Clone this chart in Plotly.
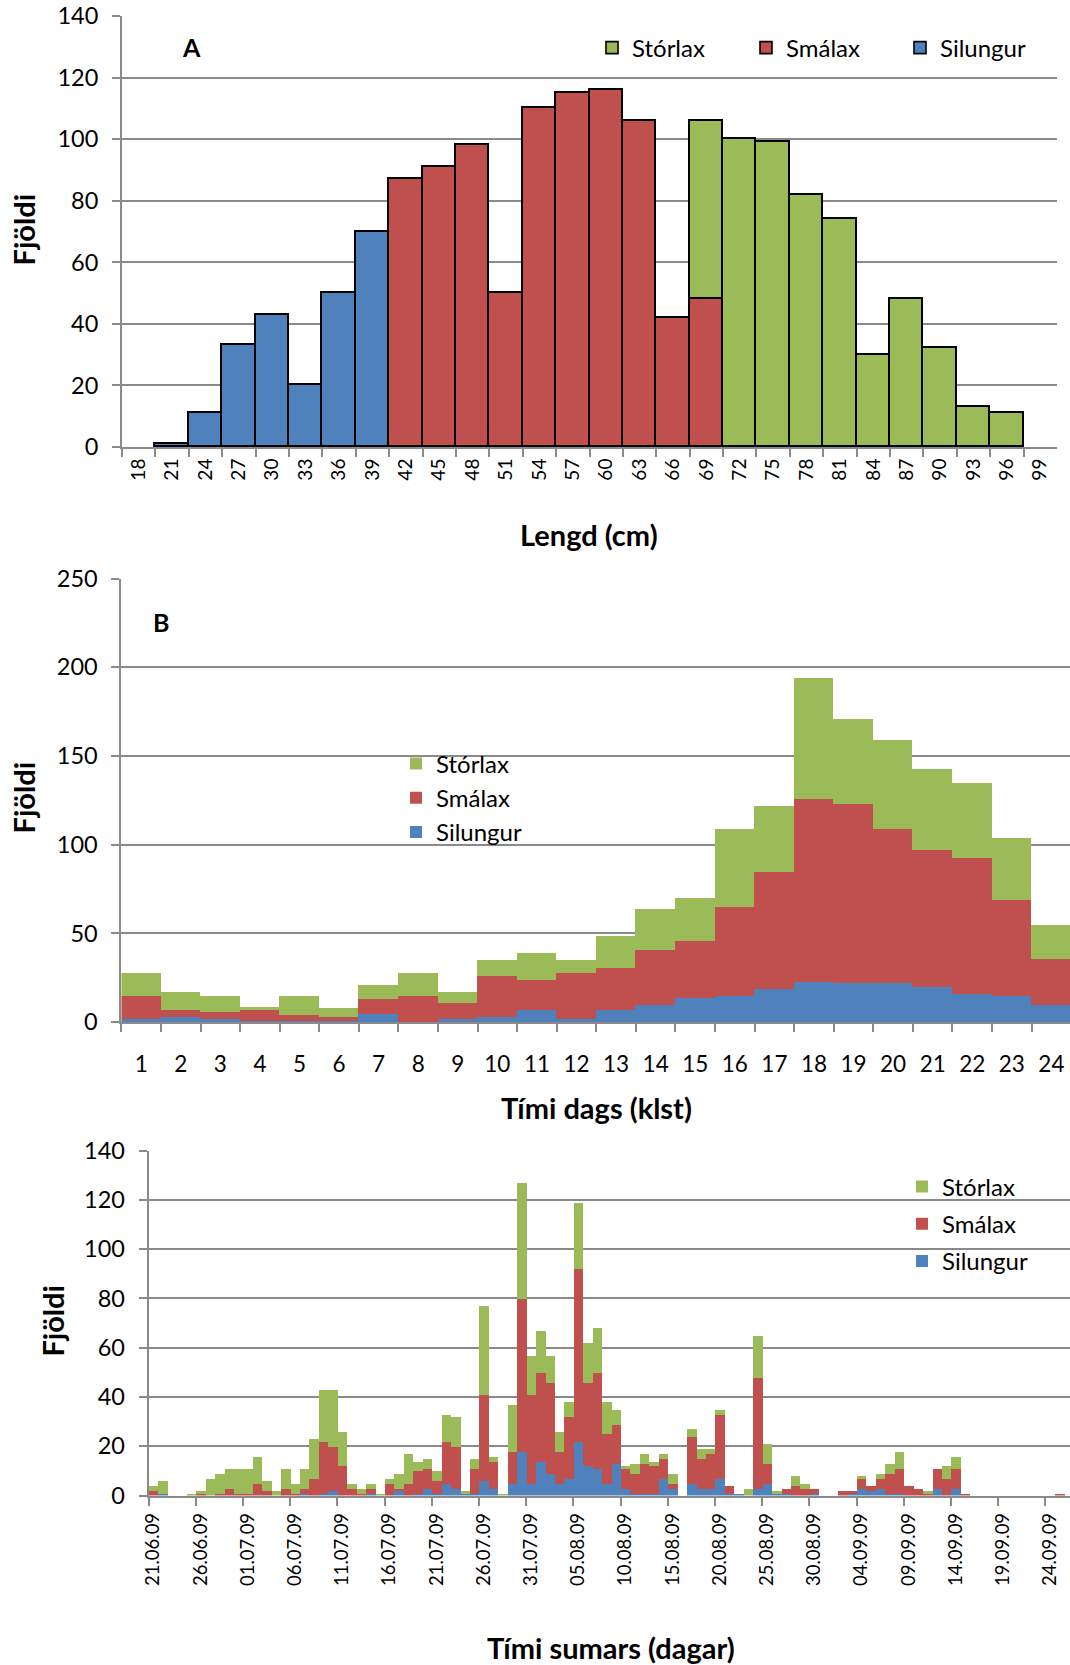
import plotly.graph_objects as go
import pandas as pd

W, H = 1070, 1665
COL_SIL = "#4F81BD"
COL_SMA = "#C0504D"
COL_STO = "#9BBB59"
GRID = "#8A8A8A"
FONT = "Lato, Carlito, 'Open Sans', sans-serif"

# ---------------- Panel A: length distribution ----------------
lengd_cat = ["18", "21", "24", "27", "30", "33", "36", "39", "42", "45", "48", "51", "54", "57",
             "60", "63", "66", "69", "72", "75", "78", "81", "84", "87", "90", "93", "96", "99"]
A_silungur = [None, 1, 11, 33, 43, 20, 50, 70, None, None, None, None, None, None,
              None, None, None, None, None, None, None, None, None, None, None, None, None, None]
A_smalax = [None, None, None, None, None, None, None, None, 87, 91, 98, 50, 110, 115,
            116, 106, 42, 48, None, None, None, None, None, None, None, None, None, None]
A_storlax = [None, None, None, None, None, None, None, None, None, None, None, None, None, None,
             None, None, None, 58, 100, 99, 82, 74, 30, 48, 32, 13, 11, None]

# ---------------- Panel B: time of day ----------------
klst_cat = [str(h) for h in range(1, 25)]
B_silungur = [2, 3, 2, 1, 1, 1, 5, 0, 2, 3, 7, 2, 7, 10, 14, 15, 19, 23, 22, 22, 20, 16, 15, 10]
B_smalax = [13, 4, 4, 6, 3, 2, 8, 15, 9, 23, 17, 26, 24, 31, 32, 50, 66, 103, 101, 87, 77, 77, 54, 26]
B_storlax = [13, 10, 9, 2, 11, 5, 8, 13, 6, 9, 15, 7, 18, 23, 24, 44, 37, 68, 48, 50, 46, 42, 35, 19]

# ---------------- Panel C: day of summer ----------------
dagar_cat = list(pd.date_range("2009-06-21", periods=98, freq="D").strftime("%d.%m.%y"))
C_silungur = [0, 1, 0, 0, 0, 0, 0, 0, 0, 0,
              0, 0, 0, 0, 0, 0, 1, 0, 1, 2,
              0, 0, 0, 1, 0, 0, 2, 0, 1, 3,
              1, 5, 3, 1, 1, 6, 3, 0, 5, 18,
              5, 14, 9, 5, 7, 22, 12, 11, 5, 13,
              3, 1, 1, 1, 7, 3, 0, 5, 3, 3,
              7, 1, 1, 0, 3, 5, 1, 1, 0, 0,
              1, 0, 0, 0, 1, 3, 2, 3, 1, 1,
              0, 0, 0, 3, 0, 3, 0, 0, 0, 0,
              0, 0, 0, 0, 0, 0, 0, 0]
C_smalax = [2, 0, 0, 0, 0, 1, 0, 1, 3, 1,
            1, 5, 2, 0, 3, 1, 2, 7, 21, 18,
            12, 3, 1, 2, 0, 5, 1, 5, 9, 8,
            5, 17, 17, 0, 10, 35, 11, 0, 13, 62,
            36, 36, 37, 13, 25, 70, 34, 39, 20, 16,
            8, 8, 12, 11, 8, 2, 0, 19, 12, 14,
            26, 3, 0, 0, 45, 8, 0, 2, 4, 3,
            2, 0, 0, 2, 1, 4, 2, 4, 8, 10,
            4, 3, 1, 8, 7, 8, 1, 0, 0, 0,
            0, 0, 0, 0, 0, 0, 1, 0]
C_storlax = [2, 5, 0, 0, 1, 1, 7, 8, 8, 10,
             10, 11, 4, 2, 8, 4, 8, 16, 21, 23,
             14, 2, 2, 2, 1, 2, 6, 12, 4, 4,
             4, 11, 12, 1, 4, 36, 2, 1, 19, 47,
             16, 17, 11, 8, 6, 27, 16, 18, 13, 6,
             1, 4, 4, 2, 2, 4, 0, 3, 4, 2,
             2, 0, 0, 3, 17, 8, 1, 0, 4, 2,
             0, 0, 0, 0, 0, 1, 0, 2, 4, 7,
             0, 0, 1, 0, 5, 5, 0, 0, 0, 0,
             0, 0, 0, 0, 0, 0, 0, 0]

series_names = ["Silungur", "Smálax", "Stórlax"]
series_cols = [COL_SIL, COL_SMA, COL_STO]
series_rank = [3, 2, 1]  # legend order: Stórlax, Smálax, Silungur

fig = go.Figure()

panels = [
    ("x", "y", "legend", lengd_cat, [A_silungur, A_smalax, A_storlax], True),
    ("x2", "y2", "legend2", klst_cat, [B_silungur, B_smalax, B_storlax], False),
    ("x3", "y3", "legend3", dagar_cat, [C_silungur, C_smalax, C_storlax], False),
]
for xa, ya, lg, cats, vals, outlined in panels:
    for name, col, rank, v in zip(series_names, series_cols, series_rank, vals):
        fig.add_trace(go.Bar(
            x=cats, y=v, name=name, xaxis=xa, yaxis=ya, legend=lg,
            legendgroup=lg + name, legendrank=rank,
            marker=dict(color=col,
                        line=dict(color="black", width=1.6 if outlined else 0)),
            hoverinfo="x+y+name",
        ))


def px_x(p):
    # page pixel -> paper fraction
    return p / W


def px_y(p):
    return 1 - p / H


def tf(size):
    return dict(family=FONT, size=size, color="black")


common_x = dict(type="category", showline=True, linecolor=GRID, linewidth=2,
                ticks="outside", ticklen=8, tickwidth=1.5, tickcolor=GRID,
                tickson="boundaries", showgrid=False, zeroline=False, automargin=False,
                ticklabeloverflow="allow", fixedrange=True)
common_y = dict(showline=True, linecolor=GRID, linewidth=2,
                ticks="outside", ticklen=8, tickwidth=1.5, tickcolor=GRID,
                showgrid=True, gridcolor=GRID, gridwidth=1.8, zeroline=False, automargin=False,
                tickfont=tf(23.5), ticklabelstandoff=9, ticklabeloverflow="allow",
                fixedrange=True)

layout = dict(
    width=W, height=H, autosize=False,
    margin=dict(l=0, r=0, t=0, b=0, pad=0, autoexpand=False),
    paper_bgcolor="white", plot_bgcolor="white",
    barmode="stack", bargap=0,
    font=dict(family=FONT, color="black"),
    xaxis=dict(common_x, domain=[px_x(122), px_x(1057)], anchor="y",
               categoryorder="array", categoryarray=lengd_cat,
               range=[-0.5, 27.5], tickangle=-90, tickfont=tf(19), ticklabelstandoff=2),
    yaxis=dict(common_y, domain=[px_y(447), px_y(16)], anchor="x",
               range=[0, 140], dtick=20),
    xaxis2=dict(common_x, domain=[px_x(121.4), 1], anchor="y2",
                categoryorder="array", categoryarray=klst_cat,
                range=[-0.5, 23.47], tickangle=0, tickfont=tf(22.5), ticklabelstandoff=21),
    yaxis2=dict(common_y, domain=[px_y(1022), px_y(578.5)], anchor="x2",
                range=[0, 250], dtick=50),
    xaxis3=dict(common_x, domain=[px_x(148.6), 1], anchor="y3",
                categoryorder="array", categoryarray=dagar_cat,
                range=[-0.5, 97.1], dtick=5, tickangle=-90, tickfont=tf(18.5),
                ticklabelstandoff=8),
    yaxis3=dict(common_y, domain=[px_y(1495.5), px_y(1150.5)], anchor="x3",
                range=[0, 140], dtick=20),
    legend=dict(orientation="h", x=px_x(592), y=px_y(48), xanchor="left", yanchor="middle",
                traceorder="normal", entrywidth=109, entrywidthmode="pixels",
                font=tf(24), bgcolor="rgba(0,0,0,0)", borderwidth=0),
    legend2=dict(orientation="v", x=px_x(396), y=px_y(741.5), xanchor="left", yanchor="top",
                 traceorder="normal",
                 font=tf(24), bgcolor="rgba(0,0,0,0)", borderwidth=0),
    legend3=dict(orientation="v", x=px_x(902), y=px_y(1164.5), xanchor="left", yanchor="top",
                 traceorder="grouped", tracegroupgap=3,
                 font=tf(24), bgcolor="rgba(0,0,0,0)", borderwidth=0),
    showlegend=True,
)

ann = []


def add_text(text, x, y, angle=0, size=29):
    ann.append(dict(text="<b>" + text + "</b>", x=px_x(x), y=px_y(y), xref="paper", yref="paper",
                    showarrow=False, xanchor="center", yanchor="middle", textangle=angle,
                    font=tf(size)))


add_text("Fjöldi", 23.4, 230, -90)
add_text("Lengd (cm)", 589, 534)
add_text("A", 192, 47, 0, 25)
add_text("Fjöldi", 23.4, 798, -90)
add_text("B", 161, 622, 0, 25)
add_text("Tími dags (klst)", 596.5, 1107)
add_text("Fjöldi", 53, 1321.6, -90)
add_text("Tími sumars (dagar)", 611.4, 1647)
layout["annotations"] = ann

fig.update_layout(**layout)
# remove the default 8px page margin so the figure sits at the window's top-left corner
fig.write_html("out.html",
               config={"displayModeBar": False},
               post_script="document.body.style.margin='0';document.body.style.overflow='hidden';")
